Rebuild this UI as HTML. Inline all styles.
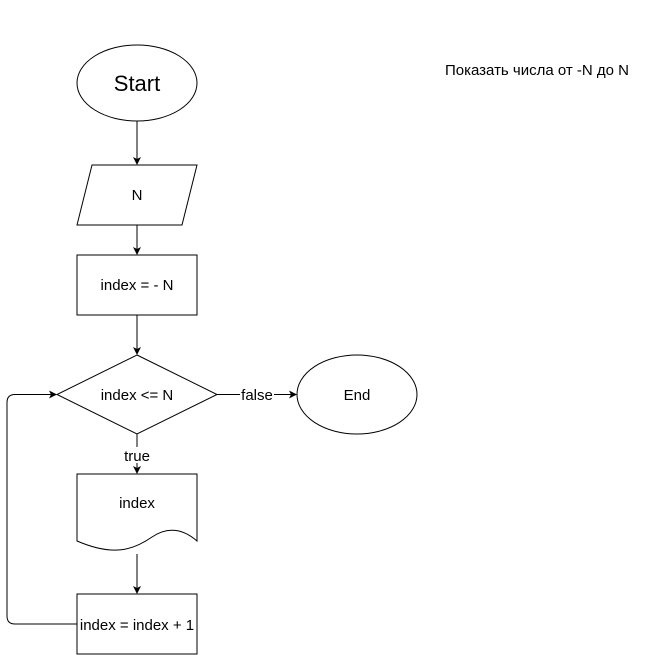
<!DOCTYPE html>
<html><head><style>body{margin:0;background:#fff}svg{display:block}text{font-family:"Liberation Sans",sans-serif;font-size:15px;fill:#000}</style></head>
<body><svg width="648" height="655" viewBox="0 0 648 655">
<defs><marker id="a" markerWidth="8" markerHeight="8" refX="7" refY="4" orient="auto" markerUnits="userSpaceOnUse"><path d="M0,0 L8,4 L0,8 L2,4 Z" fill="#000"/></marker></defs>
<g fill="#fff" stroke="#000" stroke-width="1">
<ellipse cx="137" cy="83" rx="60" ry="38"/>
<polygon points="92,165 197,165 182,225 77,225"/>
<rect x="77" y="255" width="120" height="60"/>
<polygon points="137,355 217,394.5 137,434 57,394.5"/>
<ellipse cx="357" cy="394.5" rx="60" ry="39.5"/>
<path d="M77,474 H197 V541 C182,528 167,527 152,537 C132,551 112,556 77,541 Z"/>
<rect x="77" y="594" width="120" height="60"/>
</g>
<g stroke="#000" fill="none" marker-end="url(#a)">
<line x1="137" y1="121" x2="137" y2="164"/>
<line x1="137" y1="225" x2="137" y2="254"/>
<line x1="137" y1="315" x2="137" y2="354"/>
<line x1="217" y1="394.5" x2="296" y2="394.5"/>
<line x1="137" y1="434" x2="137" y2="473"/>
<line x1="137" y1="554" x2="137" y2="593"/>
<path d="M77,624 H15 Q7,624 7,616 V402.5 Q7,394.5 15,394.5 H56"/>
</g>
<rect x="240" y="386" width="34" height="16" fill="#fff"/>
<text x="257" y="400" text-anchor="middle">false</text>
<rect x="120" y="447" width="34" height="16" fill="#fff"/>
<text x="137" y="461" text-anchor="middle">true</text>
<text x="137" y="91" text-anchor="middle" style="font-size:22px">Start</text>
<text x="137" y="200" text-anchor="middle">N</text>
<text x="137" y="290" text-anchor="middle">index = - N</text>
<text x="137" y="400" text-anchor="middle">index &lt;= N</text>
<text x="357" y="400" text-anchor="middle">End</text>
<text x="137" y="508" text-anchor="middle">index</text>
<text x="137" y="630" text-anchor="middle">index = index + 1</text>
<text x="537" y="75" text-anchor="middle">Показать числа от -N до N</text>
</svg></body></html>
